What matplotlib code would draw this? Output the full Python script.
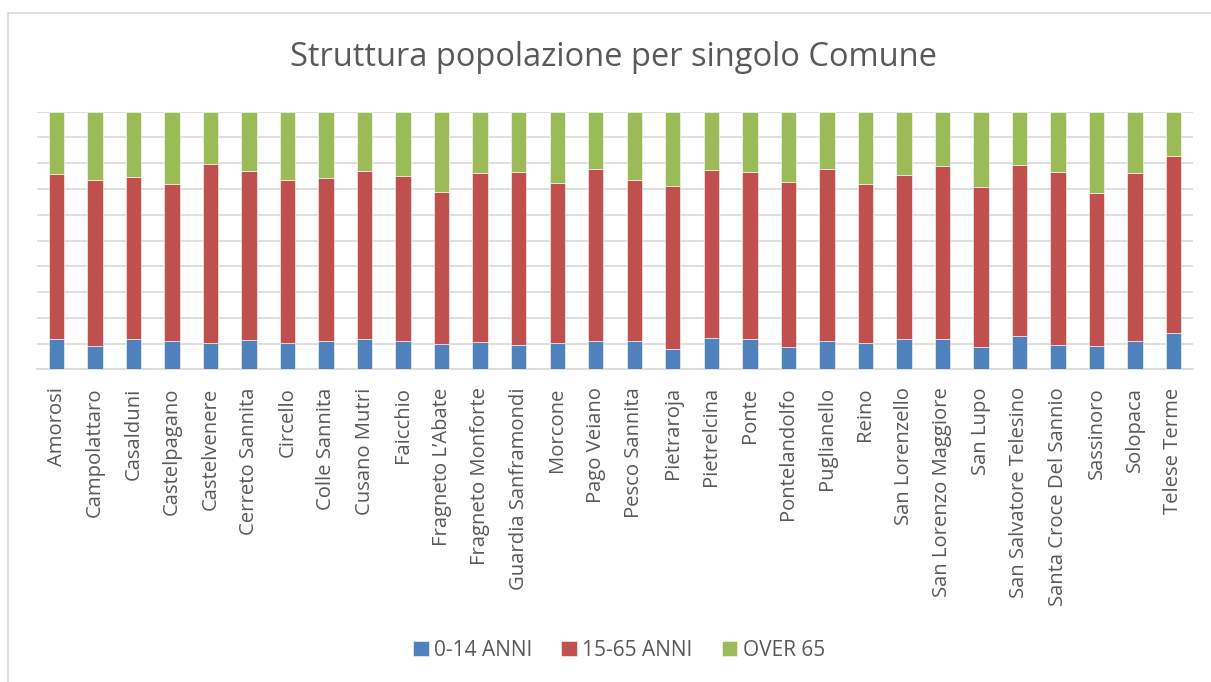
import matplotlib
matplotlib.use("Agg")
import matplotlib.pyplot as plt
from matplotlib.patches import Rectangle
import numpy as np

comuni = ["Amorosi", "Campolattaro", "Casalduni", "Castelpagano", "Castelvenere",
          "Cerreto Sannita", "Circello", "Colle Sannita", "Cusano Mutri", "Faicchio",
          "Fragneto L\u2019Abate", "Fragneto Monforte", "Guardia Sanframondi", "Morcone",
          "Pago Veiano", "Pesco Sannita", "Pietraroja", "Pietrelcina", "Ponte",
          "Pontelandolfo", "Puglianello", "Reino", "San Lorenzello", "San Lorenzo Maggiore",
          "San Lupo", "San Salvatore Telesino", "Santa Croce Del Sannio", "Sassinoro",
          "Solopaca", "Telese Terme"]

# percentage shares
anni_0_14 = [11.6, 9.2, 11.6, 10.9, 10.3, 11.4, 10.3, 10.9, 11.9, 11.1,
             10.0, 10.6, 9.4, 10.1, 10.9, 10.9, 7.8, 12.3, 11.9, 8.5,
             10.9, 10.1, 11.6, 11.6, 8.5, 12.8, 9.3, 8.9, 10.9, 14.2]
# cumulative top of the 15-65 segment
top_15_65 = [75.9, 73.6, 74.6, 72.1, 79.8, 77.1, 73.6, 74.4, 76.8, 75.2,
             69.0, 76.3, 76.6, 72.4, 77.7, 73.6, 71.0, 77.5, 76.7, 72.8,
             77.6, 72.1, 75.5, 79.0, 70.6, 79.4, 76.7, 68.6, 76.1, 82.7]
anni_15_65 = [t - b for t, b in zip(top_15_65, anni_0_14)]
over_65 = [100 - t for t in top_15_65]

series_labels = ["0-14 ANNI", "15-65 ANNI", "OVER 65"]
colors = ["#4F81BD", "#C0504D", "#9BBB59"]

plt.rcParams['font.family'] = ['Open Sans', 'DejaVu Sans']

fig = plt.figure(figsize=(12.11, 6.82), dpi=100)
W, H = 1211, 682
ax = fig.add_axes([37.25 / W, 1 - 369.3 / H, (1192.75 - 37.25) / W, (369.3 - 111.7) / H])

x = np.arange(len(comuni))
bw = 0.4
b1 = np.array(anni_0_14)
b2 = np.array(anni_15_65)
b3 = np.array(over_65)
ax.bar(x, b1, bw, color=colors[0], label=series_labels[0], edgecolor="white", linewidth=0.4, zorder=3)
ax.bar(x, b2, bw, bottom=b1, color=colors[1], label=series_labels[1], edgecolor="white", linewidth=0.4, zorder=3)
ax.bar(x, b3, bw, bottom=b1 + b2, color=colors[2], label=series_labels[2], edgecolor="white", linewidth=0.4, zorder=3)

ax.set_xlim(-0.5, len(comuni) - 0.5)
ax.set_ylim(0, 100)
ax.set_yticks(np.arange(0, 101, 10))
ax.set_yticklabels([])
ax.tick_params(axis='y', length=0)
ax.grid(axis='y', color="#D9D9D9", linewidth=1.2, zorder=0)
ax.set_axisbelow(True)
for s in ["top", "right", "left"]:
    ax.spines[s].set_visible(False)
ax.spines["bottom"].set_color("#D9D9D9")
ax.spines["bottom"].set_linewidth(1.2)

ax.set_xticks(x)
ax.set_xticklabels(comuni, rotation=90, fontsize=14.6, color="#595959")
ax.tick_params(axis='x', length=0, pad=13)

fig.text(614 / W, 1 - 57 / H, "Struttura popolazione per singolo Comune",
         ha="center", va="center", fontsize=23.5, color="#595959")

leg = fig.legend(loc="center", bbox_to_anchor=(619 / W, 1 - 650 / H), ncol=3,
                 frameon=False, fontsize=15, handlelength=0.75, handleheight=0.75,
                 handletextpad=0.25, columnspacing=1.4, labelcolor="#595959")

fig.add_artist(Rectangle((8 / W, -0.05), 1.1, 1 - 13 / H + 0.05, transform=fig.transFigure,
                         fill=False, edgecolor="#D9D9D9", linewidth=1.2))

fig.savefig("out.png", dpi=100)
